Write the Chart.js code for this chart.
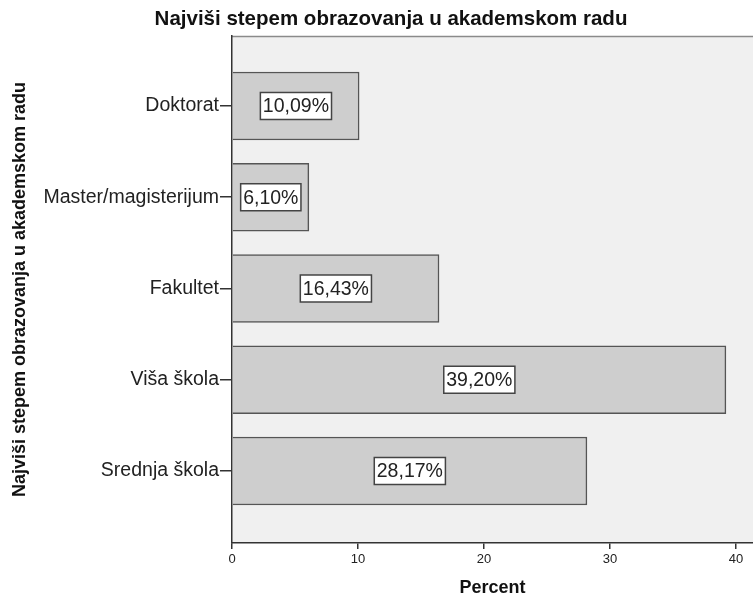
<!DOCTYPE html>
<html>
<head>
<meta charset="utf-8">
<script src="https://cdn.jsdelivr.net/npm/chart.js@4"></script>
<style>
  html,body{margin:0;padding:0;background:#fff;}
  #wrap{width:753px;height:599px;position:relative;}
</style>
</head>
<body>
<div id="wrap"><canvas id="grafico"></canvas></div>
<script>
const naslov = "Najviši stepem obrazovanja u akademskom radu"
const kategorije = ["Doktorat", "Master/magisterijum", "Fakultet", "Viša škola", "Srednja škola"]
const procenti = [10.09, 6.10, 16.43, 39.20, 28.17]
const xTickovi = [0, 10, 20, 30, 40]

const FONT = "'Liberation Sans', Arial, sans-serif"

// pozadina i gornja linija okvira
const pozadina = {
    id: 'pozadina',
    beforeDraw(chart) {
        const {ctx, chartArea: a} = chart
        ctx.save()
        ctx.fillStyle = '#f0f0f0'
        ctx.fillRect(a.left, a.top, a.right - a.left, a.bottom - a.top)
        ctx.strokeStyle = '#8a8a8a'
        ctx.lineWidth = 1.5
        ctx.beginPath()
        ctx.moveTo(a.left, a.top + 0.5)
        ctx.lineTo(a.right, a.top + 0.5)
        ctx.stroke()
        ctx.restore()
    }
}

// naslov + etikete sa procentima
const etikete = {
    id: 'etikete',
    afterDatasetsDraw(chart) {
        const ctx = chart.ctx
        ctx.save()
        ctx.font = "bold 20.5px " + FONT
        ctx.fillStyle = '#111'
        ctx.textAlign = 'center'
        ctx.textBaseline = 'alphabetic'
        ctx.fillText(naslov, 391, 25)

        ctx.font = "19.5px " + FONT
        ctx.textBaseline = 'middle'
        const meta = chart.getDatasetMeta(0)
        meta.data.forEach((bar, i) => {
            const txt = procenti[i].toFixed(2).replace('.', ',') + '%'
            const cx = (bar.x + bar.base) / 2
            const w = ctx.measureText(txt).width + 5
            const h = 27
            ctx.fillStyle = '#fff'
            ctx.fillRect(cx - w / 2, bar.y - h / 2, w, h)
            ctx.strokeStyle = '#444'
            ctx.lineWidth = 1.5
            ctx.strokeRect(cx - w / 2, bar.y - h / 2, w, h)
            ctx.fillStyle = '#222'
            ctx.fillText(txt, cx, bar.y + 1)
        })
        ctx.restore()
    }
}

let ctx = document.getElementById("grafico")
new Chart(ctx, {
    type: 'bar',
    data: {
        datasets: [{
            label: 'Percent',
            data: procenti.map((v, i) => ({x: v, y: i})),
            backgroundColor: '#cecece',
            borderColor: '#555',
            borderWidth: 1.5,
            barThickness: 68
        }]
    },
    options: {
        indexAxis: 'y',
        responsive: true,
        maintainAspectRatio: false,
        animation: false,
        layout: {padding: {top: 36, left: 0, right: 0, bottom: 0}},
        plugins: {
            legend: {display: false},
            tooltip: {enabled: false}
        },
        scales: {
            y: {
                type: 'linear',
                reverse: true,
                offset: false,
                min: -0.767,
                max: 4.789,
                afterBuildTicks: s => { s.ticks = kategorije.map((c, i) => ({value: i})) },
                afterFit: s => { s.width = 232 },
                ticks: {
                    callback: v => kategorije[v],
                    font: {family: FONT, size: 19.5},
                    color: '#222',
                    padding: 1
                },
                grid: {offset: false, drawOnChartArea: false, tickLength: 12, color: '#333', lineWidth: 1.5},
                border: {color: '#333', width: 1.5},
                title: {
                    display: true,
                    text: naslov,
                    font: {family: FONT, size: 18, weight: 'bold'},
                    color: '#111',
                    padding: {top: 9, bottom: 0}
                }
            },
            x: {
                type: 'linear',
                min: 0,
                max: 41.35,
                afterBuildTicks: s => { s.ticks = xTickovi.map(v => ({value: v})) },
                afterFit: s => { s.height = 56 },
                ticks: {
                    font: {family: FONT, size: 13},
                    color: '#222',
                    padding: 3
                },
                grid: {drawOnChartArea: false, tickLength: 6, color: '#333', lineWidth: 1.5},
                border: {color: '#333', width: 1.5},
                title: {
                    display: true,
                    text: 'Percent',
                    font: {family: FONT, size: 18, weight: 'bold'},
                    color: '#111',
                    padding: {top: 0, bottom: 0}
                }
            }
        }
    },
    plugins: [pozadina, etikete]
})
</script>
</body>
</html>
